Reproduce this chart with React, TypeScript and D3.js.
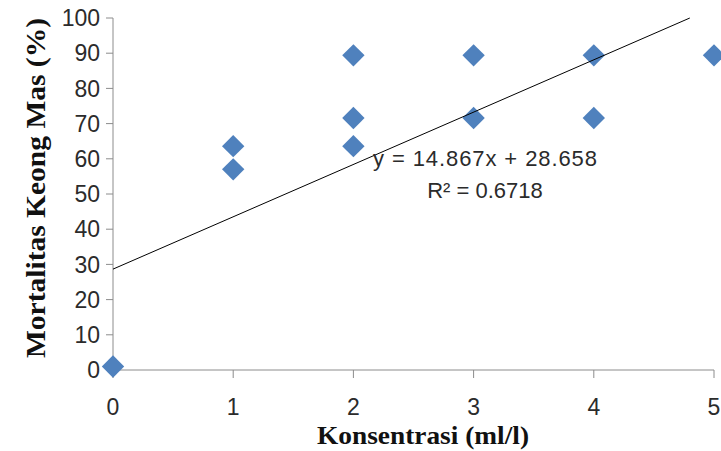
import React from "react";
import * as d3 from "d3";

const xValues = [0, 1, 1, 2, 2, 2, 3, 3, 4, 4, 5];
const yValues = [1, 63.6, 57, 89.4, 71.6, 63.6, 89.4, 71.6, 89.4, 71.6, 89.4];
const xTicks = [0, 1, 2, 3, 4, 5];
const yTicks = [0, 10, 20, 30, 40, 50, 60, 70, 80, 90, 100];
const slope = 14.867;
const intercept = 28.658;
const equationLabel = "y = 14.867x + 28.658";
const r2Label = "R\u00b2 = 0.6718";
const xTitle = "Konsentrasi (ml/l)";
const yTitle = "Mortalitas Keong Mas (%)";

const W = 721;
const H = 451;

export default function App() {
  const x = d3.scaleLinear().domain([0, 5]).range([113, 714]);
  const y = d3.scaleLinear().domain([0, 100]).range([370, 18]);
  const diamond = d3.symbol().type(d3.symbolSquare).size(250)();
  const xEnd = (100 - intercept) / slope;
  const linePath = d3.line<[number, number]>()
    .x((d) => x(d[0]))
    .y((d) => y(d[1]))([
      [0, intercept],
      [xEnd, slope * xEnd + intercept],
    ]);
  const axisColor = "#8c8c8c";
  const textColor = "#2b2b2b";
  const narrow = "'Liberation Sans Narrow', 'Arial Narrow', 'Liberation Sans', sans-serif";
  const sans = "'Liberation Sans', Arial, sans-serif";
  const serif = "'Liberation Serif', 'Times New Roman', serif";
  return (
    <svg
      width={W}
      height={H}
      style={{ position: "absolute", left: 0, top: 0, background: "#fff" }}
    >
      {/* axes */}
      <line x1={x(0)} x2={x(0)} y1={y(100)} y2={y(0)} stroke={axisColor} strokeWidth={1} />
      <line x1={x(0)} x2={x(5)} y1={y(0)} y2={y(0)} stroke={axisColor} strokeWidth={1} />
      {yTicks.map((t) => (
        <g key={"y" + t}>
          <line x1={x(0) - 7} x2={x(0)} y1={y(t)} y2={y(t)} stroke={axisColor} />
          <text
            x={100}
            y={y(t)}
            dy="0.36em"
            textAnchor="end"
            fontFamily={narrow}
            fontSize={23}
            fill={textColor}
          >
            {t}
          </text>
        </g>
      ))}
      {xTicks.map((t) => (
        <g key={"x" + t}>
          <line x1={x(t)} x2={x(t)} y1={y(0)} y2={y(0) + 8} stroke={axisColor} />
          <text
            x={x(t)}
            y={415}
            textAnchor="middle"
            fontFamily={narrow}
            fontSize={23}
            fill={textColor}
          >
            {t}
          </text>
        </g>
      ))}
      {/* points */}
      {xValues.map((xv, i) => (
        <path
          key={"p" + i}
          d={diamond || ""}
          transform={`translate(${x(xv)},${y(yValues[i])}) rotate(45)`}
          fill="#4F81BD"
        />
      ))}
      {/* trendline */}
      <path d={linePath || ""} stroke="#000" strokeWidth={1} fill="none" />
      {/* equation */}
      <text
        x={485}
        y={166}
        textAnchor="middle"
        fontFamily={sans}
        fontSize={22}
        fill={textColor}
        textLength={224}
        lengthAdjust="spacing"
      >
        {equationLabel}
      </text>
      <text
        x={485}
        y={198}
        textAnchor="middle"
        fontFamily={sans}
        fontSize={22}
        fill={textColor}
      >
        {r2Label}
      </text>
      {/* axis titles */}
      <text
        x={423}
        y={444}
        textAnchor="middle"
        fontFamily={serif}
        fontWeight="bold"
        fontSize={26}
        fill="#111"
        textLength={212}
        lengthAdjust="spacingAndGlyphs"
      >
        {xTitle}
      </text>
      <text
        transform={`translate(45,188) rotate(-90)`}
        textAnchor="middle"
        fontFamily={serif}
        fontWeight="bold"
        fontSize={27}
        fill="#111"
        textLength={340}
        lengthAdjust="spacingAndGlyphs"
      >
        {yTitle}
      </text>
    </svg>
  );
}
